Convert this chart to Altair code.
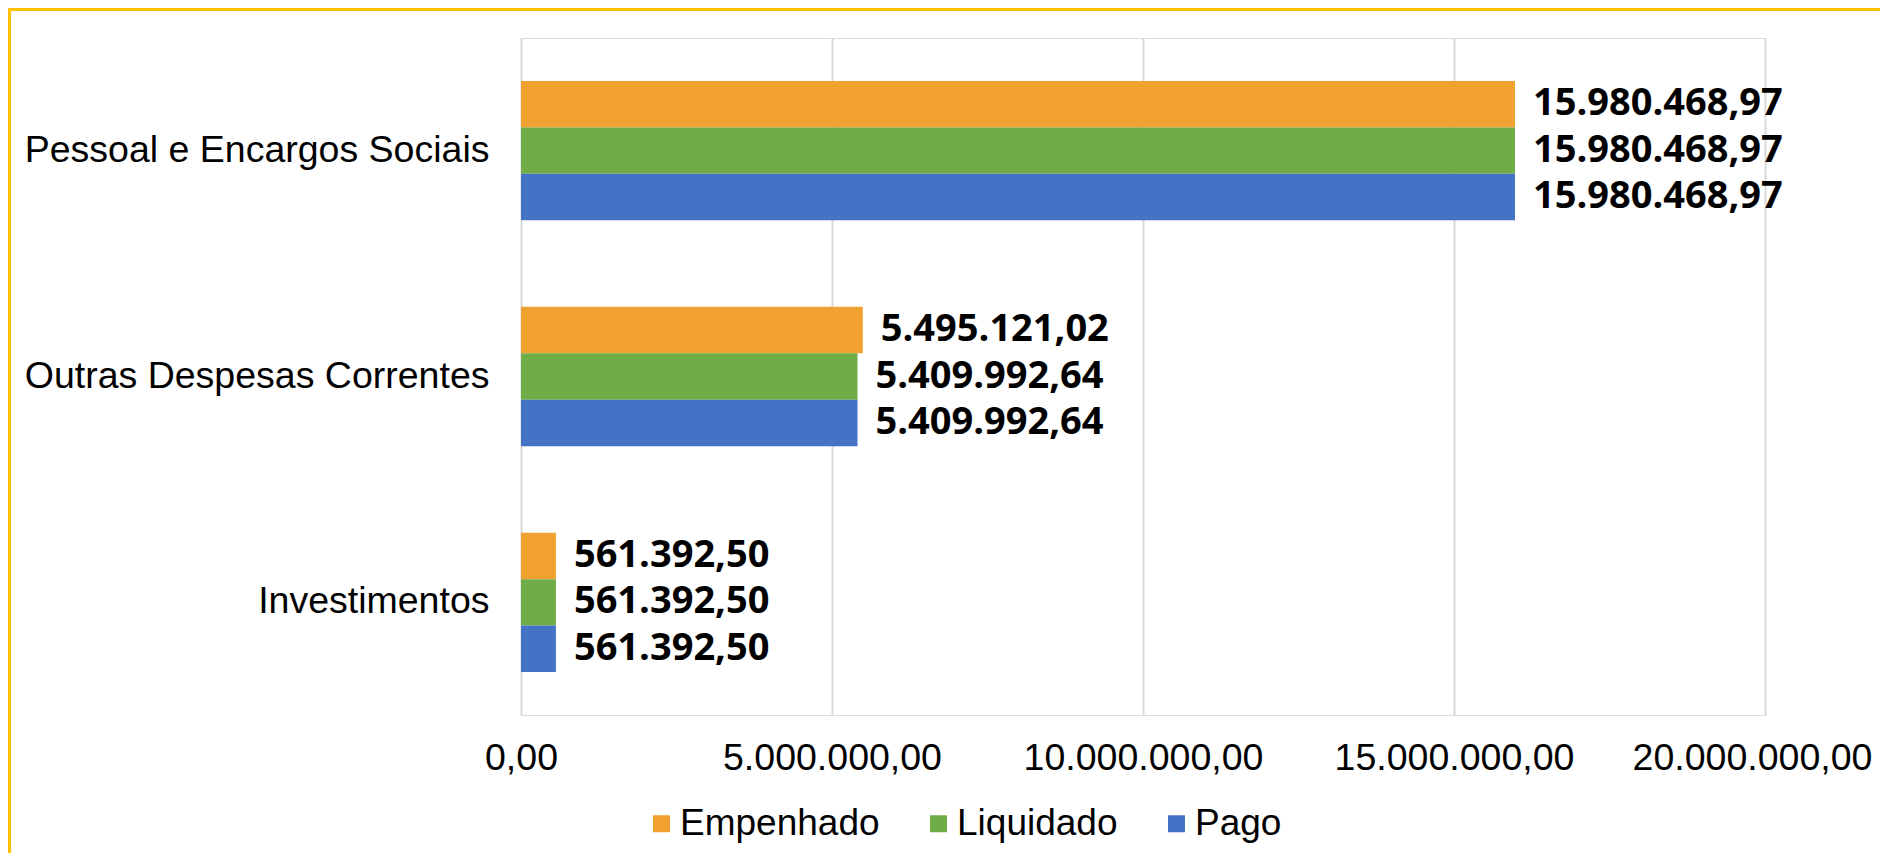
import altair as alt
import pandas as pd

categories = ["Pessoal e Encargos Sociais", "Outras Despesas Correntes", "Investimentos"]
series = ["Empenhado", "Liquidado", "Pago"]
empenhado = [15980468.97, 5495121.02, 561392.50]
liquidado = [15980468.97, 5409992.64, 561392.50]
pago = [15980468.97, 5409992.64, 561392.50]
colors = ["#F0A12F", "#70AD47", "#4472C4"]
x_ticks = [0, 5000000, 10000000, 15000000, 20000000]


def br(v):
    s = f"{v:,.2f}"
    return s.replace(",", "_").replace(".", ",").replace("_", ".")


rows = []
for s, vals in zip(series, [empenhado, liquidado, pago]):
    for c, v in zip(categories, vals):
        rows.append({"categoria": c, "serie": s, "valor": v, "rotulo": br(v)})
df = pd.DataFrame(rows)

W, H = 1244, 677
FONT = "Liberation Sans, Arial, sans-serif"

y_enc = alt.Y(
    "categoria:N",
    sort=categories,
    title=None,
    scale=alt.Scale(paddingInner=0.383, paddingOuter=0.19),
    axis=alt.Axis(
        domain=False, ticks=False, tickSize=0, grid=False,
        labelFont=FONT, labelFontSize=37.5, labelColor="#000000",
        labelPadding=32, labelLimit=0,
    ),
)
yoff = alt.YOffset("serie:N", sort=series, scale=alt.Scale(paddingInner=0, paddingOuter=0))
x_enc = alt.X(
    "valor:Q",
    title=None,
    scale=alt.Scale(domain=[0, 20000000], nice=False),
    axis=alt.Axis(
        values=x_ticks, format=",.2f", domain=False, ticks=False, tickSize=0,
        grid=True, gridColor="#D9D9D9", gridWidth=2,
        labelFont=FONT, labelFontSize=37.5, labelColor="#000000",
        labelPadding=24, labelFlush=False, labelOverlap=False, labelLimit=0,
        labelOffset={"condition": {"test": "datum.value >= 20000000", "value": -13}, "value": 0},
    ),
)

bars = alt.Chart(df).mark_bar().encode(
    x=x_enc,
    y=y_enc,
    yOffset=yoff,
    color=alt.Color(
        "serie:N",
        sort=series,
        scale=alt.Scale(domain=series, range=colors),
        legend=alt.Legend(
            orient="none", legendX=122, legendY=767, direction="horizontal",
            title=None, symbolType="square", symbolSize=289, symbolStrokeWidth=0,
            labelFont=FONT, labelFontSize=37, labelColor="#000000",
            labelOffset=0, columnPadding=40, padding=0, labelLimit=0,
        ),
    ),
)

labels = alt.Chart(df).mark_text(
    align="left", baseline="middle", dx=18,
    font="Open Sans", fontWeight="bold", fontSize=38, color="#000000",
).encode(
    x=alt.X("valor:Q"),
    y=alt.Y("categoria:N", sort=categories),
    yOffset=alt.YOffset("serie:N", sort=series),
    text="rotulo:N",
)

frame = alt.Chart(pd.DataFrame({"k": [0]})).mark_rect(
    fillOpacity=0, stroke="#FFC000", strokeWidth=3
).encode(
    x=alt.value(-511.5), x2=alt.value(2000),
    y=alt.value(-28.5), y2=alt.value(2000),
)

chart = alt.layer(bars, labels, frame).properties(
    width=W, height=H,
    autosize=alt.AutoSizeParams(type="none"),
    padding={"left": 513, "top": 30, "right": 115, "bottom": 138},
).configure_view(strokeWidth=0).configure(
    background="white",
    locale={"number": {"decimal": ",", "thousands": ".", "grouping": [3], "currency": ["R$ ", ""]}},
)

chart.save("out.html", embed_options={"renderer": "svg", "actions": False})
